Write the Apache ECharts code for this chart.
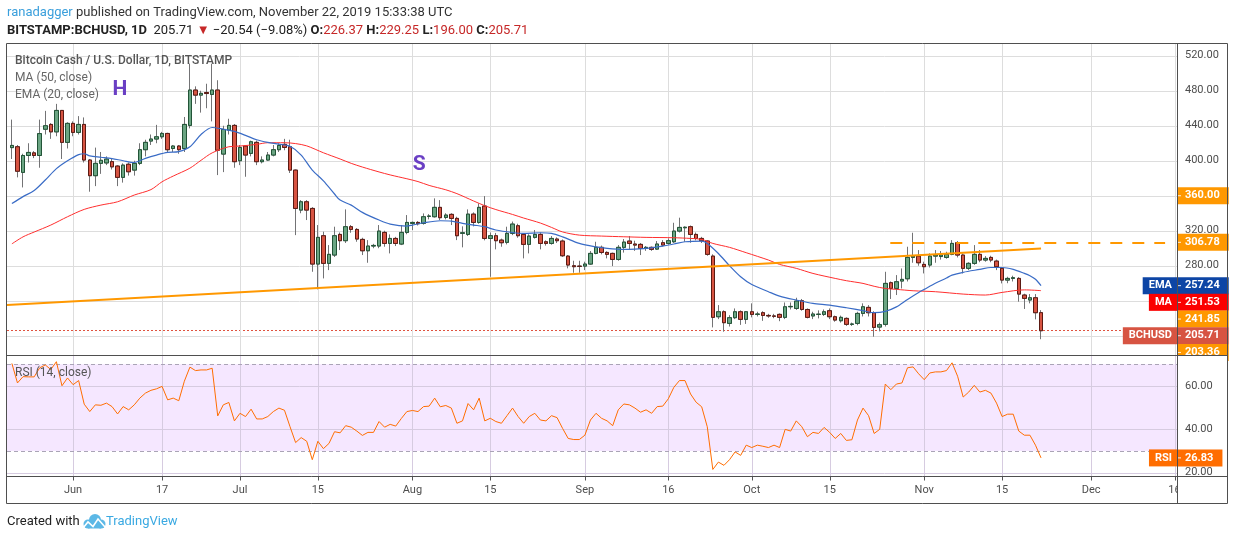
<!DOCTYPE html>
<html lang="en">
<head>
<meta charset="UTF-8">
<title>BCHUSD 1D</title>
<script src="https://cdn.jsdelivr.net/npm/echarts@6/dist/echarts.min.js"></script>
<style>
    html, body { margin: 0; padding: 0; background: #ffffff; }
    #chart { width: 1234px; height: 540px; }
</style>
</head>
<body>
<div id="chart"></div>
<script>
// day index 0 = 2019-05-21, one candle per day up to 2019-11-22 (index 185)
// [open, close, low, high]
var candles = [
    [415, 417.5, 402, 447], [416, 388, 381, 418], [386.7, 406, 369.5, 408], [406, 409.5, 398, 420],
    [409, 406, 403, 411], [406, 431, 392, 447], [436, 440, 430, 457], [441.5, 433, 425, 443],
    [433, 457.5, 428, 465], [457.5, 421, 402, 458], [421, 442.7, 414, 444], [442.7, 432.4, 428, 445],
    [432.4, 441.5, 430, 451], [441.5, 400.8, 398, 449.5], [400.8, 382.9, 364.6, 402], [382.9, 397, 371, 415],
    [397, 400.5, 385, 410], [397.5, 401.9, 395, 405], [399, 393, 390, 402], [393.9, 381, 371, 395],
    [381, 395, 375, 397], [396, 387.4, 383, 398], [389.3, 397, 383, 400], [397, 412.6, 395, 420],
    [412.6, 421, 405, 424], [422.5, 424.8, 418, 430], [424.8, 427.4, 420, 441], [427.4, 431.2, 425, 433],
    [431.2, 412.6, 410, 432], [414, 416.8, 410, 418], [416.8, 412.6, 408, 418], [414, 441.5, 410, 450],
    [440.4, 480.8, 437, 511], [480.8, 475, 465, 485], [475, 477, 455, 480], [478, 476.8, 460, 488],
    [475.8, 480.8, 445, 511], [480.8, 412, 383.6, 492], [407.6, 435.8, 387, 440], [435, 440.4, 430, 448],
    [440.4, 398.9, 392, 442], [400, 415.2, 395, 418], [416.8, 406.5, 381.7, 418], [408.4, 421.7, 405, 423],
    [421, 398.9, 395, 423], [398.9, 400.8, 397, 405], [400.8, 406.5, 400, 410], [406.5, 412.6, 405, 418],
    [412.6, 417.5, 410, 420], [418.7, 415.2, 412, 425], [416, 389.3, 386, 424], [389.3, 345.5, 315, 390],
    [343.6, 353.1, 340, 355], [353.1, 343.6, 332.2, 355], [345.5, 281.9, 273.1, 347], [281.9, 312.4, 253, 326.5],
    [314.3, 282.7, 265.5, 318.9], [282.7, 293, 275, 303.6], [292.2, 314.3, 290, 324.6], [315.8, 308.6, 297.9, 318],
    [308.6, 324.6, 306, 344.4], [324.6, 321.5, 317.7, 326.5], [321.5, 310.5, 307.4, 323], [310.1, 297.1, 292.2, 312],
    [297.1, 302.5, 283.4, 309.3], [302.5, 303.2, 300, 305], [302.5, 319.6, 300, 326.5], [318.1, 305.5, 301.7, 320],
    [305.5, 311.2, 294.1, 315.8], [311.2, 305.5, 302.5, 313], [304.8, 318.1, 303.6, 326.5], [318.1, 329.5, 316, 337.9],
    [328.4, 329.5, 320.8, 330.5], [329.5, 328, 326, 331], [328.4, 336, 327, 339.8], [336.4, 336.8, 333, 339],
    [336, 346.7, 335, 357], [346.7, 334.9, 332.2, 355], [335.2, 337.9, 333, 340], [338.7, 334.1, 326.5, 340],
    [334.1, 314.3, 309.3, 336], [317, 317.7, 301, 325], [315.8, 339, 314, 344.4], [339, 329.5, 325, 341],
    [329.5, 346.7, 328, 351.2], [348.2, 311.2, 309, 359.6], [311.2, 314.3, 267.4, 318], [314.3, 308.6, 298.7, 317.5],
    [309.3, 306.3, 301.7, 311], [306.7, 317, 304.4, 324.6], [317, 327.6, 315, 330.5], [325.7, 314.3, 312, 328],
    [315.8, 304.4, 288.4, 317], [304.4, 313.9, 294.1, 316], [312.4, 315.8, 311, 320.8], [315.8, 305.5, 298.7, 318],
    [307.4, 305.5, 303, 309], [305.5, 311.2, 304, 313.9], [310.5, 308.6, 306, 312.4], [308.2, 291.4, 290, 310],
    [291, 280.8, 277, 292.2], [280, 278.9, 272, 285.7], [279.6, 279.2, 272, 285.7], [279.6, 281.9, 275, 284.6],
    [281.9, 294.1, 281, 296.8], [294.1, 301, 293, 307.4], [301, 295.2, 293, 303], [295.2, 293, 288.4, 296.5],
    [294.1, 287.2, 279.6, 295], [287.2, 301, 285.7, 303.6], [301, 307, 295, 310.5], [308.2, 305.5, 298.7, 313.9],
    [304.8, 303.6, 297, 308.6], [304.4, 299.8, 292.2, 306], [299.8, 301, 297, 302.5], [301, 298.7, 297, 302],
    [299, 304.8, 298, 308.2], [306.3, 303.6, 302, 309.3], [305.5, 308.6, 304, 311.2], [307.4, 319.6, 306, 329.1],
    [319.6, 323.8, 318, 334.9], [323.4, 324, 307.4, 325], [324.6, 315.8, 306.3, 326], [315.8, 311.2, 309, 318],
    [311.2, 308.6, 306, 313], [308.2, 293, 291.4, 309], [291, 221, 209.5, 293], [221.7, 227.4, 219, 235],
    [227.4, 214.9, 204.6, 229], [214.1, 220.6, 210.5, 223.5], [220.6, 227.4, 219, 231.2], [227.4, 218.7, 212.4, 229],
    [218.7, 227.4, 213.5, 228], [227.4, 224.4, 221, 237], [224.4, 224.8, 222, 227.4], [226.3, 223.2, 217, 228],
    [223.2, 222.6, 220.5, 225], [222.6, 222.2, 220, 225], [224.4, 221, 216.6, 225.5], [221, 233.1, 219, 238],
    [233.1, 233.5, 230, 238], [231.2, 239.6, 229.5, 243.4], [240, 230, 228.6, 242], [230, 221, 219.8, 231.2],
    [222.6, 224.8, 219, 227.4], [224.4, 224.6, 219.8, 229], [224.4, 227.4, 222.6, 230], [228.6, 221.7, 219, 231.2],
    [221.7, 217.9, 216, 223], [217.1, 221, 215, 223], [219.8, 213, 211.2, 221], [213, 213.4, 211.2, 215],
    [214.1, 225.5, 212, 227.4], [225.5, 233.1, 222, 237], [232.4, 226.3, 222, 235], [226.3, 209.5, 198.9, 228],
    [209.9, 212.6, 205, 215], [213, 259.8, 210.5, 273.1], [260.6, 254.1, 242, 262], [254.1, 261.7, 246.5, 269.3],
    [262.5, 264.4, 254, 276.9], [265.1, 289.5, 262, 301.7], [289.5, 291, 283.4, 317.7], [291, 283.4, 280, 297.9],
    [281.5, 278.9, 271.2, 284.6], [280.8, 291, 278, 294.1], [291, 292.2, 283.4, 297.9], [290.5, 292.2, 287, 296.8],
    [289.5, 293, 288, 296], [293, 305.5, 292, 309.3], [306.3, 292.2, 289.5, 308.2], [292.2, 277, 271.2, 294],
    [277, 282.7, 275, 284], [282.7, 293, 281, 303.6], [293, 286.5, 284, 297.9], [286.5, 288.4, 284.6, 291],
    [289.5, 286.5, 284, 291.4], [285.3, 278.9, 275, 287], [277, 263.6, 259.8, 278], [263.6, 265.5, 260, 267.4],
    [265.5, 266.3, 262, 268.6], [265.5, 247.6, 238.9, 267], [246.5, 242.7, 230.6, 248], [240.8, 243.4, 237, 247.6],
    [243.4, 226.3, 218.7, 247.6], [226.37, 205.71, 196, 229.25]
];

// [day index, value]
var emaPts = [
    [0, 351], [2, 359], [4, 366], [6, 378], [8, 391], [10, 400], [12, 407], [13, 408], [14, 405.5], [16, 404],
    [18, 402.5], [20, 400], [22, 398], [24, 402.7], [26, 406.5], [28, 409.5], [30, 410.5], [32, 416], [34, 430],
    [36, 438], [38, 436], [40, 433.5], [42, 429], [44, 424], [46, 421], [48, 419], [50, 416.5], [52, 406.5],
    [54, 389.3], [56, 377], [58, 362], [59, 355], [61, 349.3], [63, 341], [66, 332.2], [68, 327.6], [71, 325.3],
    [72, 326.5], [74, 329.1], [77, 331.4], [79, 331], [81, 328.4], [83, 326.5], [85, 324.6], [87, 320.8],
    [90, 318], [92, 317], [95, 317.7], [97, 317], [99, 313], [102, 305.5], [105, 301.5], [107, 299.8],
    [110, 298.7], [112, 299], [114, 299.8], [117, 302.5], [119, 304.8], [121, 307.4], [124, 308.2], [125, 305.5],
    [127, 294], [129, 280], [131, 267.4], [133, 258.5], [136, 250.3], [138, 245.3], [141, 240.8], [144, 237],
    [147, 235], [150, 232], [153, 228.6], [155, 226.3], [157, 227.8], [159, 233], [161, 241.5], [163, 249.5],
    [164, 253], [166, 260], [168, 266], [169, 269.3], [171, 272.5], [174, 275.8], [176, 278], [178, 278],
    [180, 275.8], [182, 271.2], [183, 268.5], [184, 264.5], [185, 257.24]
];
var maPts = [
    [0, 305], [2, 313], [4, 318.5], [7, 326.5], [10, 336], [13, 344.4], [16, 349.3], [19, 353.1], [22, 360.8],
    [25, 367], [27, 376], [29, 382.5], [32, 391.5], [34, 400.5], [36, 409], [39, 416], [41, 416.8], [44, 418.7],
    [46, 420.6], [49, 420.6], [51, 419.6], [53, 417], [56, 409.1], [59, 402], [61, 397], [63, 392.8], [66, 387.2],
    [68, 383.8], [71, 379.4], [73, 376.2], [75, 371.8], [78, 366.8], [80, 362.4], [83, 354], [85, 348.6],
    [87, 344.2], [90, 338.6], [92, 334.5], [95, 328.8], [97, 323.8], [99, 318.6], [102, 315], [106, 313.9],
    [110, 313.1], [114, 312.4], [119, 312], [122, 311.2], [124, 310.1], [126, 305.5], [129, 301], [132, 294.9],
    [136, 286.5], [138, 281.5], [141, 277], [144, 271.2], [148, 265.5], [150, 262.9], [153, 259.8], [155, 256.5],
    [157, 254], [159, 253], [162, 251.4], [166, 250.3], [171, 247.6], [175, 246.5], [178, 249.5], [182, 252.4],
    [185, 251.53]
];

var rsi = [
    70.4, 61.4, 64.3, 64.2, 64.2, 68.4, 69.7, 67.6, 71.2, 60.1, 63.7, 60.6, 62.5, 51.6, 48.2, 51.3, 51.1, 52.1,
    50.5, 47.1, 50.5, 49.0, 51.3, 54.4, 56.7, 58.0, 58.7, 59.8, 53.6, 54.4, 53.2, 62.2, 68.7, 67.1, 67.4, 67.4,
    68.2, 46.2, 51.3, 52.4, 43.9, 47.4, 45.9, 49.3, 44.8, 44.8, 45.9, 48.2, 49.8, 48.8, 41.2, 33.9, 36.2, 34.5,
    26.0, 34.5, 31.1, 33.5, 38.9, 38.4, 41.7, 41.0, 39.2, 37.2, 38.6, 38.6, 43.6, 41.0, 42.3, 41.5, 45.0, 48.2,
    48.7, 48.2, 50.5, 50.7, 54.4, 50.4, 51.0, 49.8, 42.8, 43.9, 51.9, 49.0, 54.4, 43.9, 45.1, 43.6, 42.8, 46.3,
    49.8, 45.9, 42.8, 45.9, 47.4, 44.3, 43.9, 46.3, 45.4, 40.4, 35.8, 35.3, 35.3, 37.3, 44.3, 47.4, 45.1, 43.9,
    41.7, 49.0, 51.7, 51.3, 49.8, 47.9, 49.0, 47.4, 50.5, 50.7, 54.1, 59.4, 62.5, 62.5, 56.3, 52.5, 50.4, 41.2,
    21.5, 24.9, 23.4, 26.0, 29.6, 28.0, 32.7, 31.6, 32.7, 32.2, 31.6, 32.7, 31.6, 40.0, 39.2, 43.9, 41.2, 36.6,
    38.6, 38.1, 40.9, 38.6, 35.8, 38.1, 34.9, 35.2, 44.3, 49.8, 46.3, 38.1, 40.0, 60.9, 58.3, 60.9, 61.4, 68.4,
    68.8, 65.6, 62.9, 66.0, 66.5, 66.5, 67.1, 70.7, 64.5, 54.9, 57.2, 60.3, 57.2, 58.0, 56.7, 52.1, 45.9, 47.0,
    47.0, 39.2, 37.3, 37.3, 32.7, 26.83
];

// horizontal levels drawn on the chart: price, first day, last day
var levelValues = [360, 306.78, 241.85, 203.36];
var levelFrom = [49.7, 157.9, 122.8, 121.9];
var levelTo = [209.5, 207.3, 209.5, 209.5];
var trendLine = [[-0.88, 235], [185, 299.8]];

var tickDays = [11, 27, 41, 55, 72, 86, 103, 118, 133, 147, 164, 178, 194, 209];
var tickLabels = ['Jun', '17', 'Jul', '15', 'Aug', '15', 'Sep', '16', 'Oct', '15', 'Nov', '15', 'Dec', '16'];
var priceTicks = [200, 240, 280, 320, 360, 400, 440, 480, 520];
var rsiTicks = [20, 40, 60];

var font = 'Roboto, "Noto Sans", sans-serif';
var xMin = -0.88, xMax = 209.44;
var priceMin = 177.4, priceMax = 534;
var rsiMin = 18.25, rsiMax = 74.06;

var candleData = candles.map(function (c, i) { return [i, c[0], c[1], c[2], c[3]]; });
var bodyData = candles.map(function (c, i) {
    return [i, c[0], c[1], Math.min(c[0], c[1]), Math.max(c[0], c[1])];
});
var rsiData = rsi.map(function (v, i) { return [i, v]; });
var last = candles[candles.length - 1];

function hSegments(vals) {
    return vals.map(function (v) { return [{coord: [xMin, v]}, {coord: [xMax, v]}]; });
}
var plainLine = {symbol: ['none', 'none'], silent: true, label: {show: false}, animation: false};

function yAxisFor(grid, min, max, ticks) {
    return {
        type: 'value', gridIndex: grid, position: 'right', min: min, max: max,
        axisLine: {show: false}, axisTick: {show: false}, splitLine: {show: false},
        axisLabel: {
            customValues: ticks, color: '#4d4d4d', fontSize: 11, margin: 8,
            formatter: function (v) { return v.toFixed(2); }
        }
    };
}
function helperSeries(id, grid, color, z, clip) {
    return {
        id: id, type: 'line', xAxisIndex: grid, yAxisIndex: grid, data: [], z: z, clip: clip,
        showSymbol: false, silent: true, connectNulls: false,
        lineStyle: {color: color, width: 1}
    };
}

var chart = echarts.init(document.getElementById('chart'));
var option = {
    animation: false,
    textStyle: {fontFamily: font},
    grid: [
        {left: 7, right: 57, top: 43.5, height: 312, outerBoundsMode: 'none'},
        {left: 7, right: 57, top: 355.5, height: 121, outerBoundsMode: 'none'}
    ],
    xAxis: [
        {
            type: 'value', gridIndex: 0, min: xMin, max: xMax,
            axisLine: {show: false}, axisTick: {show: false}, axisLabel: {show: false}, splitLine: {show: false}
        },
        {
            type: 'value', gridIndex: 1, min: xMin, max: xMax,
            axisLine: {show: false}, axisTick: {show: false}, splitLine: {show: false},
            axisLabel: {
                customValues: tickDays, color: '#4d4d4d', fontSize: 11, margin: 8,
                formatter: function (v) { return tickLabels[tickDays.indexOf(v)]; }
            }
        }
    ],
    yAxis: [
        yAxisFor(0, priceMin, priceMax, priceTicks),
        yAxisFor(1, rsiMin, rsiMax, rsiTicks)
    ],
    series: [
        helperSeries('grid0', 0, '#dddddd', 1, true),
        helperSeries('grid1', 1, '#d6cbe0', 1, true),
        helperSeries('ticks0', 0, '#555555', 1, false),
        helperSeries('ticks1', 1, '#555555', 1, false),
        // last price line
        {
            type: 'line', xAxisIndex: 0, yAxisIndex: 0, data: [], z: 1,
            markLine: Object.assign({}, plainLine, {
                z: 1,
                lineStyle: {color: '#e0533f', type: [2, 2], width: 1},
                data: hSegments([last[1]])
            })
        },
        // wicks
        {
            type: 'candlestick', xAxisIndex: 0, yAxisIndex: 0, data: candleData, barWidth: 4, z: 2,
            itemStyle: {color: '#6ba583', color0: '#d75442', borderColor: '#737375', borderColor0: '#737375', borderWidth: 1}
        },
        // bodies
        {
            type: 'candlestick', xAxisIndex: 0, yAxisIndex: 0, data: bodyData, barWidth: 4, z: 3,
            itemStyle: {color: '#6ba583', color0: '#d75442', borderColor: '#225437', borderColor0: '#5b1a13', borderWidth: 1},
            markPoint: {
                symbol: 'circle', symbolSize: 1, silent: true, animation: false,
                itemStyle: {color: 'rgba(0,0,0,0)'},
                label: {show: true, position: 'inside', color: '#6a3fc4', fontSize: 21, fontWeight: 'bold',
                    fontFamily: font, formatter: function (p) { return p.name; }},
                data: [{name: 'H', coord: [19.43, 480.8]}, {name: 'S', coord: [73.2, 395]}]
            }
        },
        {
            name: 'MA', type: 'line', xAxisIndex: 0, yAxisIndex: 0, data: maPts, z: 4,
            showSymbol: false, smooth: 0.3, lineStyle: {color: '#ff2e2e', width: 1}
        },
        {
            name: 'EMA', type: 'line', xAxisIndex: 0, yAxisIndex: 0, data: emaPts, z: 4,
            showSymbol: false, smooth: 0.3, lineStyle: {color: '#3a6cc6', width: 1.2}
        },
        // trend line and horizontal levels
        {
            type: 'line', xAxisIndex: 0, yAxisIndex: 0, data: trendLine, z: 5,
            showSymbol: false, lineStyle: {color: '#ff9800', width: 2},
            markLine: Object.assign({}, plainLine, {
                z: 5,
                lineStyle: {color: '#ff9800', type: [12, 10], width: 2},
                data: levelValues.map(function (v, k) {
                    return [{coord: [levelFrom[k], v]}, {coord: [levelTo[k], v]}];
                })
            })
        },
        // RSI pane
        {
            type: 'line', xAxisIndex: 1, yAxisIndex: 1, data: [], z: 0,
            markArea: {
                silent: true, z: 0, animation: false,
                itemStyle: {color: 'rgba(153,21,255,0.1)'},
                data: [[{coord: [xMin, 30]}, {coord: [xMax, 70]}]]
            }
        },
        {
            type: 'line', xAxisIndex: 1, yAxisIndex: 1, data: [], z: 2,
            markLine: Object.assign({}, plainLine, {
                z: 2,
                lineStyle: {color: '#aaa4b6', type: [4, 3], width: 1},
                data: hSegments([30, 70])
            })
        },
        {
            name: 'RSI', type: 'line', xAxisIndex: 1, yAxisIndex: 1, data: rsiData, z: 3,
            showSymbol: false, lineStyle: {color: '#ff6d00', width: 1}
        }
    ]
};
chart.setOption(option);

// grid lines and ticks: positions come from the axes, snapped to whole pixels
function snap(axis, v) {
    return chart.convertFromPixel(axis, Math.round(chart.convertToPixel(axis, v)) + 0.5);
}
var gap = '-';
var dayPx = chart.convertToPixel({xAxisIndex: 0}, 1) - chart.convertToPixel({xAxisIndex: 0}, 0);
var rsiPx = chart.convertToPixel({yAxisIndex: 1}, 20) - chart.convertToPixel({yAxisIndex: 1}, 21);
var grid0 = [], grid1 = [], ticks0 = [], ticks1 = [];
tickDays.forEach(function (d) {
    var x = snap({xAxisIndex: 0}, d);
    grid0.push([x, priceMin], [x, priceMax], [x, gap]);
    grid1.push([x, rsiMin], [x, rsiMax], [x, gap]);
    ticks1.push([x, rsiMin], [x, rsiMin - 4 / rsiPx], [x, gap]);
});
priceTicks.forEach(function (v) {
    var y = snap({yAxisIndex: 0}, v);
    grid0.push([xMin, y], [xMax, y], [xMax, gap]);
    ticks0.push([xMax, y], [xMax + 4 / dayPx, y], [xMax, gap]);
});
rsiTicks.forEach(function (v) {
    var y = snap({yAxisIndex: 1}, v);
    grid1.push([xMin, y], [xMax, y], [xMax, gap]);
    ticks1.push([xMax, y], [xMax + 4 / dayPx, y], [xMax, gap]);
});
chart.setOption({series: [
    {id: 'grid0', data: grid0}, {id: 'grid1', data: grid1},
    {id: 'ticks0', data: ticks0}, {id: 'ticks1', data: ticks1}
]});

// price scale tags, pushed apart the way the original stacks them
var tagH = 16.7;
function stack(tags, axisIndex) {
    tags.forEach(function (t) { t.y = chart.convertToPixel({yAxisIndex: axisIndex}, t.value); });
    tags.sort(function (a, b) { return a.y - b.y; });
    for (var k = 1; k < tags.length; k++) {
        if (tags[k].y < tags[k - 1].y + tagH) tags[k].y = tags[k - 1].y + tagH;
    }
    return tags;
}
var priceTags = levelValues.map(function (v) { return {value: v, color: '#ff9800'}; });
priceTags.push({value: emaPts[emaPts.length - 1][1], color: '#0d45a5', name: 'EMA'});
priceTags.push({value: maPts[maPts.length - 1][1], color: '#fb0000', name: 'MA'});
priceTags.push({value: last[1], color: '#d75442', name: 'BCHUSD'});
var rsiTags = [{value: rsi[rsi.length - 1], color: '#ff6d00', name: 'RSI'}];
var allTags = stack(priceTags, 0).concat(stack(rsiTags, 1));

var tagFont = 'bold 11px ' + font;
var els = [];
allTags.forEach(function (t) {
    els.push({
        type: 'text', x: 1177, y: t.y, z: 20,
        style: {text: t.value.toFixed(2), font: tagFont, fill: '#ffffff', backgroundColor: t.color,
            padding: [3, 9, 3, 8], lineHeight: 11, align: 'left', verticalAlign: 'middle'}
    });
    els.push({
        type: 'line', z: 21, shape: {x1: 1177, y1: t.y, x2: 1181, y2: t.y},
        style: {stroke: 'rgba(255,255,255,0.85)', lineWidth: 1}
    });
    if (t.name) {
        els.push({
            type: 'text', x: 1177, y: t.y, z: 20,
            style: {text: t.name, font: tagFont, fill: '#ffffff', backgroundColor: t.color,
                padding: [3, 5, 3, 6], lineHeight: 11, align: 'right', verticalAlign: 'middle'}
        });
    }
});

var frame = '#4f4f4f';
els = els.concat([
    // clip areas outside the panes
    {type: 'rect', z: 25, shape: {x: 1178, y: 356, width: 50, height: 7}, style: {fill: '#ffffff'}},
    {type: 'rect', z: 25, shape: {x: 1178, y: 477, width: 50, height: 26}, style: {fill: '#ffffff'}},
    {type: 'line', z: 30, shape: {x1: 6.5, y1: 43.5, x2: 1227.5, y2: 43.5}, style: {stroke: frame, lineWidth: 1}},
    {type: 'line', z: 30, shape: {x1: 6.5, y1: 503.5, x2: 1227.5, y2: 503.5}, style: {stroke: frame, lineWidth: 1}},
    {type: 'line', z: 30, shape: {x1: 6.5, y1: 43.5, x2: 6.5, y2: 503.5}, style: {stroke: frame, lineWidth: 1}},
    {type: 'line', z: 30, shape: {x1: 1227.5, y1: 43.5, x2: 1227.5, y2: 503.5}, style: {stroke: frame, lineWidth: 1}},
    {type: 'line', z: 30, shape: {x1: 6.5, y1: 355.5, x2: 1227.5, y2: 355.5}, style: {stroke: frame, lineWidth: 1}},
    {type: 'line', z: 30, shape: {x1: 6.5, y1: 476.5, x2: 1227.5, y2: 476.5}, style: {stroke: frame, lineWidth: 1}},
    {type: 'line', z: 30, shape: {x1: 1177.5, y1: 43.5, x2: 1177.5, y2: 503.5}, style: {stroke: frame, lineWidth: 1}},
    // header
    {
        type: 'text', x: 7, y: 13, z: 30,
        style: {
            text: '{u|ranadagger}{t| published on TradingView.com, November 22, 2019 15:33:38 UTC}',
            verticalAlign: 'middle',
            rich: {
                u: {fill: '#3a9fdc', fontSize: 13, fontFamily: font},
                t: {fill: '#333333', fontSize: 13, fontFamily: font}
            }
        }
    },
    {
        type: 'text', x: 7, y: 31, z: 30,
        style: {
            text: '{b|BITSTAMP:BCHUSD, 1D}{t|  205.71 }{r|▼}{t| \u221220.54 (\u22129.08%) }' +
                '{b|O:}{r|226.37}{t| }{b|H:}{r|229.25}{t| }{b|L:}{r|196.00}{t| }{b|C:}{r|205.71}',
            verticalAlign: 'middle',
            rich: {
                b: {fill: '#222222', fontSize: 13, fontWeight: 'bold', fontFamily: font},
                t: {fill: '#222222', fontSize: 13, fontFamily: font},
                r: {fill: '#c62828', fontSize: 13, fontFamily: font}
            }
        }
    },
    // legends
    {type: 'text', x: 15, y: 61, z: 30, style: {text: 'Bitcoin Cash / U.S. Dollar, 1D, BITSTAMP', fill: '#555555',
        font: '500 12px ' + font, verticalAlign: 'middle'}},
    {type: 'text', x: 15, y: 78, z: 30, style: {text: 'MA (50, close)', fill: '#666666', font: '12px ' + font, verticalAlign: 'middle'}},
    {type: 'text', x: 15, y: 95, z: 30, style: {text: 'EMA (20, close)', fill: '#666666', font: '12px ' + font, verticalAlign: 'middle'}},
    {type: 'text', x: 15, y: 373, z: 30, style: {text: 'RSI (14, close)', fill: '#555555', font: '12px ' + font, verticalAlign: 'middle'}},
    // footer
    {type: 'text', x: 7, y: 522, z: 30, style: {text: 'Created with', fill: '#222222', font: '13px ' + font, verticalAlign: 'middle'}},
    {type: 'circle', z: 30, shape: {cx: 88, cy: 524, r: 4.5}, style: {fill: '#5cb8e6'}},
    {type: 'circle', z: 30, shape: {cx: 95, cy: 520, r: 6}, style: {fill: '#5cb8e6'}},
    {type: 'circle', z: 30, shape: {cx: 101, cy: 524, r: 4.5}, style: {fill: '#5cb8e6'}},
    {type: 'rect', z: 30, shape: {x: 88, y: 523, width: 13, height: 5.5}, style: {fill: '#5cb8e6'}},
    {type: 'polyline', z: 31, shape: {points: [[83, 528], [88, 522], [93, 526.5], [98, 519], [105, 527]]},
        style: {stroke: '#ffffff', lineWidth: 1.6, fill: 'none'}},
    {type: 'text', x: 106, y: 522, z: 30, style: {text: 'TradingView', fill: '#3aa9e2', font: '13px ' + font, verticalAlign: 'middle'}}
]);

chart.setOption({graphic: {elements: els}});
</script>
</body>
</html>
